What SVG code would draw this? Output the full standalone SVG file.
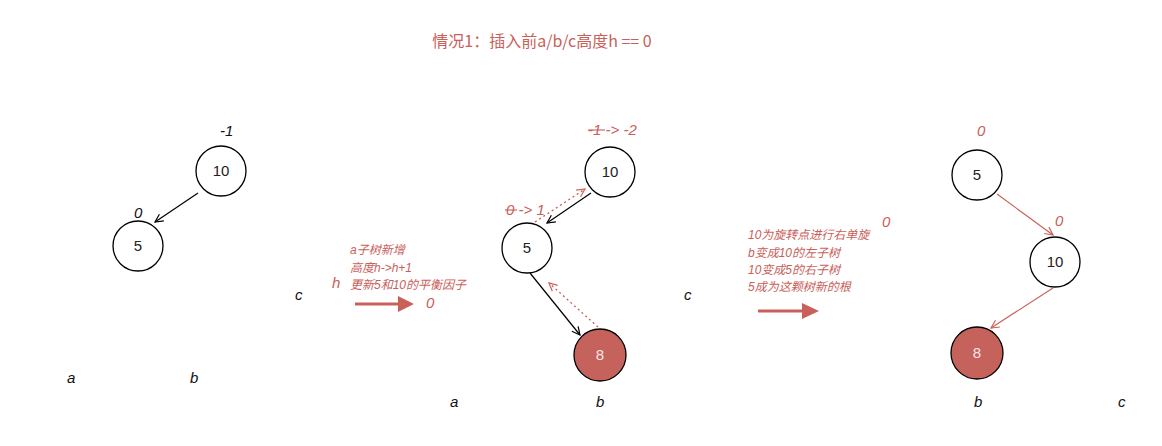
<svg xmlns="http://www.w3.org/2000/svg" width="1162" height="446" viewBox="0 0 1162 446">
<style>
.node{fill:#fff;stroke:#000;stroke-width:1.3}
.hot{fill:#c5625c;stroke:#000;stroke-width:1.3}
.nt{font-family:"Liberation Sans","Noto Sans CJK SC",sans-serif;font-size:15px;text-anchor:middle;fill:#222}
.nth{font-family:"Liberation Sans","Noto Sans CJK SC",sans-serif;font-size:15px;text-anchor:middle;fill:#fbe6e4}
.lbl{font-family:"Liberation Sans","Noto Sans CJK SC",sans-serif;font-size:15px;font-style:italic;fill:#111}
.red{font-family:"Liberation Sans","Noto Sans CJK SC",sans-serif;font-size:15px;font-style:italic;fill:#c9605a}
.note{font-family:"Liberation Sans","Noto Sans CJK SC",sans-serif;font-size:12px;font-style:italic;fill:#c9605a}
.title{font-family:"Noto Sans CJK SC","Liberation Sans",sans-serif;font-size:16px;fill:#c9605a}
.blk{stroke:#000;stroke-width:1.2;fill:none;marker-end:url(#ab)}
.rln{stroke:#c9605a;stroke-width:1.2;fill:none;marker-end:url(#ar)}
.dot{stroke:#c9605a;stroke-width:1.3;stroke-dasharray:2 3;fill:none;marker-end:url(#ar)}
.big{stroke:#c9605a;stroke-width:3;fill:none}
</style>
<defs>
<marker id="ab" viewBox="0 0 10 10" refX="9" refY="5" markerWidth="10" markerHeight="10" markerUnits="userSpaceOnUse" orient="auto"><path d="M1,1 L9,5 L1,9" fill="none" stroke="#000" stroke-width="1.2"/></marker>
<marker id="ar" viewBox="0 0 10 10" refX="9" refY="5" markerWidth="10" markerHeight="10" markerUnits="userSpaceOnUse" orient="auto"><path d="M1,1 L9,5 L1,9" fill="none" stroke="#c9605a" stroke-width="1.2"/></marker>
</defs>
<rect width="1162" height="446" fill="#fff"/>
<text class="title" x="542" y="47" text-anchor="middle">情况1：插入前a/b/c高度h == 0</text>

<g id="connectors">
<line class="blk" x1="198" y1="193" x2="155" y2="222"/>
<line class="blk" x1="591" y1="193" x2="547" y2="223"/>
<line class="dot" x1="535" y1="222" x2="585" y2="189"/>
<line class="blk" x1="530" y1="273" x2="580" y2="335"/>
<line class="dot" x1="598" y1="327" x2="549" y2="283"/>
<line class="rln" x1="997" y1="194" x2="1053" y2="235"/>
<line class="rln" x1="1053" y1="288" x2="991" y2="328"/>
<line class="big" x1="355" y1="304" x2="400" y2="304"/>
<path d="M398,296 L414,304 L398,312 Z" fill="#c9605a"/>
<line class="big" x1="758" y1="311" x2="804" y2="311"/>
<path d="M802,303 L819,311 L802,319 Z" fill="#c9605a"/>
</g>

<g id="t1-n10"><circle class="node" cx="221" cy="171" r="25"/><text class="nt" x="221" y="176">10</text></g>
<g id="t1-n5"><circle class="node" cx="138" cy="246" r="25"/><text class="nt" x="138" y="251">5</text></g>
<g id="t2-n10"><circle class="node" cx="610" cy="172" r="25"/><text class="nt" x="610" y="177">10</text></g>
<g id="t2-n5"><circle class="node" cx="527" cy="248" r="25"/><text class="nt" x="527" y="253">5</text></g>
<g id="t2-n8"><circle class="hot" cx="600" cy="355" r="26"/><text class="nth" x="600" y="360">8</text></g>
<g id="t3-n5"><circle class="node" cx="977" cy="175" r="25"/><text class="nt" x="977" y="180">5</text></g>
<g id="t3-n10"><circle class="node" cx="1055" cy="262" r="25"/><text class="nt" x="1055" y="267">10</text></g>
<g id="t3-n8"><circle class="hot" cx="977" cy="353" r="26"/><text class="nth" x="977" y="358">8</text></g>

<g id="labels">
<text class="lbl" x="220" y="136">-1</text>
<text class="lbl" x="134" y="218">0</text>
<text class="lbl" x="67" y="383">a</text>
<text class="lbl" x="190" y="383">b</text>
<text class="lbl" x="295" y="300">c</text>
<text class="red" x="332" y="288">h</text>
<text class="red" x="426" y="308">0</text>
<text class="note" x="350" y="254">a子树新增</text>
<text class="note" x="350" y="272">高度h-&gt;h+1</text>
<text class="note" x="350" y="289">更新5和10的平衡因子</text>
<text class="red" x="588" y="135">-1 -&gt; -2</text>
<line x1="588" y1="130" x2="605" y2="130" stroke="#c9605a" stroke-width="1.1"/>
<text class="red" x="506" y="215">0 -&gt; 1</text>
<line x1="505" y1="210" x2="517" y2="210" stroke="#c9605a" stroke-width="1.1"/>
<text class="lbl" x="450" y="407">a</text>
<text class="lbl" x="596" y="407">b</text>
<text class="lbl" x="684" y="300">c</text>
<text class="note" x="748" y="239">10为旋转点进行右单旋</text>
<text class="note" x="748" y="257">b变成10的左子树</text>
<text class="note" x="748" y="274">10变成5的右子树</text>
<text class="note" x="748" y="291">5成为这颗树新的根</text>
<text class="red" x="882" y="227">0</text>
<text class="red" x="977" y="136">0</text>
<text class="red" x="1055" y="226">0</text>
<text class="lbl" x="974" y="407">b</text>
<text class="lbl" x="1118" y="407">c</text>
</g>
</svg>
